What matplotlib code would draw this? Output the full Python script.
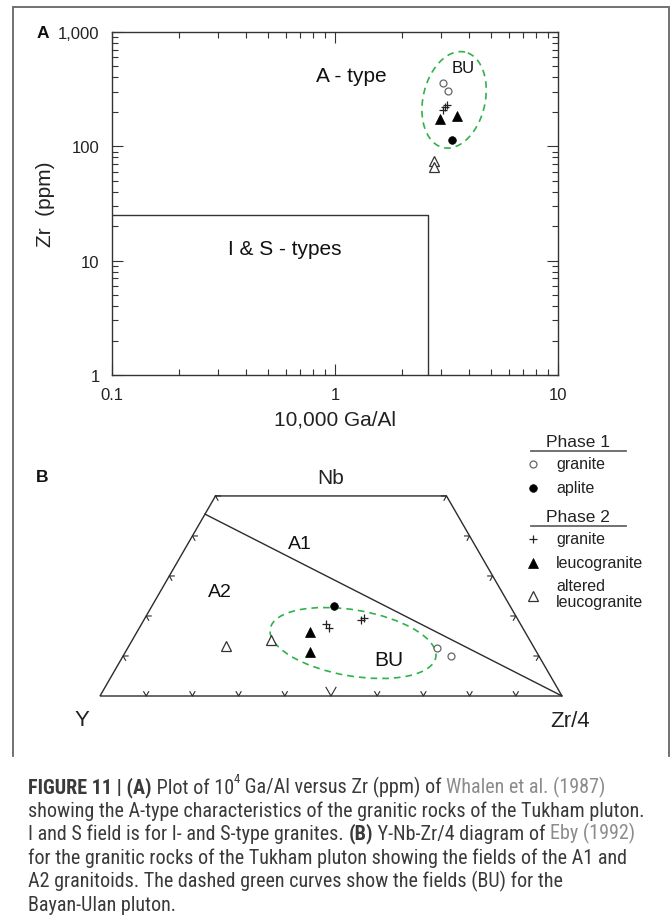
import numpy as np
import matplotlib
matplotlib.use("Agg")
import matplotlib.pyplot as plt
from matplotlib.patches import Ellipse
from matplotlib.ticker import FixedLocator, LogLocator, NullFormatter
from matplotlib import font_manager

W, H, DPI = 672, 920, 100

# ---------------- Panel A: 10,000 Ga/Al vs Zr (ppm) ----------------
a_granite1_gaal = [3.05, 3.21]
a_granite1_zr = [359, 305]
a_aplite_gaal = [3.35]
a_aplite_zr = [114]
a_granite2_gaal = [3.05, 3.11, 3.18]
a_granite2_zr = [208, 221, 230]
a_leuco_gaal = [2.96, 3.52]
a_leuco_zr = [174, 185]
a_altered_gaal = [2.78, 2.78]
a_altered_zr = [74, 66]

# I & S-type field limits
is_gaal_max = 2.6
is_zr_max = 25

x_major = [0.1, 1, 10]
x_labels = ["0.1", "1", "10"]
y_major = [1, 10, 100, 1000]
y_labels = ["1", "10", "100", "1,000"]

# ---------------- Panel B: Y - Nb - Zr/4 (percent) ----------------
b_granite1_y = [21, 19]
b_granite1_nb = [12, 10]
b_granite1_zr4 = [67, 71]
b_aplite_y = [38]
b_aplite_nb = [22.5]
b_aplite_zr4 = [39.5]
b_granite2_y = [42, 42, 34, 33]
b_granite2_nb = [18, 17, 19, 19.5]
b_granite2_zr4 = [40, 41, 47, 47.5]
b_leuco_y = [46.5, 49]
b_leuco_nb = [16, 11]
b_leuco_zr4 = [37.5, 40]
b_altered_y = [66.5, 56]
b_altered_nb = [12.5, 14]
b_altered_zr4 = [21, 30]

# A1 / A2 divide: Y/Nb = 1.2 ; diagram truncated at Nb = 50 %
a1a2_y_over_nb = 1.2
nb_top = 0.5

legend_phase1 = [("granite", "o_open"), ("aplite", "o_fill")]
legend_phase2 = [("granite", "plus"), ("leucogranite", "tri_fill"),
                 ("altered\nleucogranite", "tri_open")]

INK = "#2b2b2b"
GREEN = "#2fb24a"
plt.rcParams['font.family'] = ['Liberation Sans', 'DejaVu Sans']

STYLES = {
    "o_open": dict(marker="o", ms=5, mfc="white", mec="#666666", mew=0.9, ls="none"),
    "o_fill": dict(marker="o", ms=5.5, mfc="black", mec="black", mew=0.5, ls="none"),
    "plus": dict(marker="+", ms=5.5, mec="#222222", mew=0.9, ls="none"),
    "tri_fill": dict(marker="^", ms=6.5, mfc="black", mec="black", mew=0.5, ls="none"),
    "tri_open": dict(marker="^", ms=6.5, mfc="white", mec="#333333", mew=0.9, ls="none"),
}

fig = plt.figure(figsize=(W / DPI, H / DPI), dpi=DPI)

# pixel-space overlay for frame, labels, legend and caption
ov = fig.add_axes([0, 0, 1, 1], zorder=0)
ov.set_xlim(0, W)
ov.set_ylim(H, 0)
ov.axis("off")
ov.plot([13, 13, 669, 669], [757, 8, 8, 757], color="#666666", lw=1.3,
        solid_joinstyle="miter")

# ================= Panel A =================
axA = fig.add_axes([112 / W, 1 - 376 / H, 446 / W, 343 / H], zorder=2)
axA.set_xscale("log")
axA.set_yscale("log")
axA.set_xlim(0.1, 10)
axA.set_ylim(1, 1000)
for s in axA.spines.values():
    s.set_color("#333333")
    s.set_linewidth(1.0)

axA.xaxis.set_major_locator(FixedLocator(x_major))
axA.set_xticklabels(x_labels)
axA.yaxis.set_major_locator(FixedLocator(y_major))
axA.set_yticklabels(y_labels)
for axis in (axA.xaxis, axA.yaxis):
    axis.set_minor_locator(LogLocator(base=10, subs=range(2, 10), numticks=20))
    axis.set_minor_formatter(NullFormatter())
axA.tick_params(which="both", direction="in", top=True, right=True,
                color="#333333", labelcolor="#222222", labelsize=12, width=0.8)
axA.tick_params(which="major", length=8)
axA.tick_params(which="minor", length=4)
axA.tick_params(axis="x", pad=9)
axA.tick_params(axis="y", pad=9)

axA.plot([0.1, is_gaal_max, is_gaal_max], [is_zr_max, is_zr_max, 1],
         color="#333333", lw=1.0)

axA.plot(a_granite1_gaal, a_granite1_zr, **STYLES["o_open"])
axA.plot(a_aplite_gaal, a_aplite_zr, **STYLES["o_fill"])
axA.plot(a_granite2_gaal, a_granite2_zr, **STYLES["plus"])
axA.plot(a_leuco_gaal, a_leuco_zr, **STYLES["tri_fill"])
axA.plot(a_altered_gaal, a_altered_zr, **STYLES["tri_open"])

# Bayan-Ulan field: tilted ellipse drawn in display-space proportions
cx, cy = np.log10(3.42), np.log10(255)
a_px, b_px, th = 49.0, 31.0, np.deg2rad(77)
t = np.linspace(0, 2 * np.pi, 200)
dx = a_px * np.cos(t) * np.cos(th) - b_px * np.sin(t) * np.sin(th)
dy = a_px * np.cos(t) * np.sin(th) + b_px * np.sin(t) * np.cos(th)
axA.plot(10 ** (cx + dx / 223.0), 10 ** (cy + dy / 114.33), color=GREEN,
         lw=1.2, ls=(0, (4, 3)))

axA.text(1.18, 413, "A - type", fontsize=15, ha="center", va="center", color="#111111")
axA.text(0.597, 12.7, "I & S - types", fontsize=15, ha="center", va="center", color="#111111")
axA.text(3.75, 485, "BU", fontsize=12, ha="center", va="center", color="#111111")

axA.set_xlabel("10,000 Ga/Al", fontsize=15, color="#222222")
axA.xaxis.set_label_coords(0.5, -0.128)
axA.xaxis.label.set_va("center")
axA.set_ylabel("Zr  (ppm)", fontsize=15, color="#222222")
axA.yaxis.set_label_coords(-0.150, 0.50)
axA.yaxis.label.set_va("center")

ov.text(43, 33, "A", fontsize=12.5, fontweight="bold", ha="center", va="center", color="#111111")

# ================= Panel B =================
SC = 462.0  # pixels per unit of the ternary base
axB = fig.add_axes([60 / W, 1 - 740 / H, 540 / W, 300 / H], zorder=2)
axB.set_xlim(-40 / SC, 500 / SC)
axB.set_ylim(-43 / SC, 257 / SC)
axB.axis("off")

R3 = np.sqrt(3) / 2


def tern(yv, nb, zr):
    yv, nb, zr = (np.asarray(v, float) for v in (yv, nb, zr))
    s = yv + nb + zr
    nb, zr = nb / s, zr / s
    return zr + nb / 2, nb * R3


def tern_pt(yv, nb, zr):
    px, py = tern([yv], [nb], [zr])
    return px[0], py[0]


# outline truncated at nb_top
outline_x = [nb_top / 2, 0, 1, 1 - nb_top / 2, nb_top / 2]
outline_y = [nb_top * R3, 0, 0, nb_top * R3, nb_top * R3]
axB.plot(outline_x, outline_y, color=INK, lw=1.0, solid_joinstyle="miter")

# A1 / A2 divide from the Y-Nb side to the Zr/4 apex
nb_f = 1 / (1 + a1a2_y_over_nb)
lx, ly = tern([1 - nb_f, 0], [nb_f, 0], [0, 1])
axB.plot(lx, ly, color=INK, lw=1.0)


def chevron(px, py, d1, d2, L):
    axB.plot([px + L * d1[0], px, px + L * d2[0]],
             [py + L * d1[1], py, py + L * d2[1]], color=INK, lw=0.8)


# chevron ticks every 10 %
up_r = (0.5, R3)
up_l = (-0.5, R3)
for i in range(1, 10):
    chevron(i / 10, 0, up_r, up_l, (10 if i == 5 else 5) / SC)
for i in range(1, 6):
    f = i / 10
    chevron(f / 2, f * R3, (1, 0), (0.5, -R3), 5 / SC)
    chevron(1 - f / 2, f * R3, (-1, 0), (-0.5, -R3), 5 / SC)

axB.plot(*tern(b_granite1_y, b_granite1_nb, b_granite1_zr4), **STYLES["o_open"])
axB.plot(*tern(b_aplite_y, b_aplite_nb, b_aplite_zr4), **STYLES["o_fill"])
axB.plot(*tern(b_granite2_y, b_granite2_nb, b_granite2_zr4), **STYLES["plus"])
axB.plot(*tern(b_leuco_y, b_leuco_nb, b_leuco_zr4), **STYLES["tri_fill"])
axB.plot(*tern(b_altered_y, b_altered_nb, b_altered_zr4), **STYLES["tri_open"])

axB.add_patch(Ellipse((253 / SC, 53 / SC), 168 / SC, 66 / SC, angle=-9.75,
                      fill=False, ec=GREEN, lw=1.2, ls=(0, (4, 3))))

axB.text(*tern_pt(33, 9, 58), "BU", fontsize=15, ha="center", va="center", color="#111111")
axB.text(*tern_pt(37.7, 38, 24.3), "A1", fontsize=14, ha="center", va="center", color="#111111")
axB.text(*tern_pt(61, 26, 13), "A2", fontsize=14, ha="center", va="center", color="#111111")
axB.text(0.5, nb_top * R3 + 18 / SC, "Nb", fontsize=15, ha="center", va="center", color="#222222")
axB.text(-18 / SC, -24 / SC, "Y", fontsize=16, ha="center", va="center", color="#222222")
axB.text(1 + 8 / SC, -25 / SC, "Zr/4", fontsize=16, ha="center", va="center", color="#222222")

ov.text(42, 478, "B", fontsize=12.5, fontweight="bold", ha="center", va="center", color="#111111")


# legend
def legend_block(title, entries, y_title):
    ov.text(578, y_title, title, fontsize=12.5, ha="center", va="center", color="#222222")
    ov.plot([531, 626], [y_title + 9, y_title + 9], color="#666666", lw=1.3)
    y = y_title + 22
    for label, key in entries:
        if "\n" in label:
            ov.plot([533], [y + 9], **STYLES[key])
            ov.text(556, y - 9, label, fontsize=11.5, ha="left", va="top",
                    color="#222222", linespacing=1.05)
        else:
            ov.plot([533], [y], **STYLES[key])
            ov.text(556, y, label, fontsize=11.5, ha="left", va="center",
                    color="#222222")
        y += 24


legend_block("Phase 1", legend_phase1, 443)
legend_block("Phase 2", legend_phase2, 518)

# ================= Caption =================
names = {f.name for f in font_manager.fontManager.ttflist}
cap_family = "Liberation Sans"
for cand in ["Liberation Sans Narrow", "Roboto Condensed", "Open Sans Condensed"]:
    if cand in names:
        cap_family = cand
        break

TXT = "#3a3a3a"
LINK = "#8c8c8c"
caption = [
    [("FIGURE 11 | (A)", "b"), (" Plot of 10", "n"), ("4", "sup"),
     (" Ga/Al versus Zr (ppm) of ", "n"), ("Whalen et al. (1987)", "l")],
    [("showing the A-type characteristics of the granitic rocks of the Tukham pluton.", "n")],
    [("I and S field is for I- and S-type granites. ", "n"), ("(B)", "b"),
     (" Y-Nb-Zr/4 diagram of ", "n"), ("Eby (1992)", "l")],
    [("for the granitic rocks of the Tukham pluton showing the fields of the A1 and", "n")],
    [("A2 granitoids. The dashed green curves show the fields (BU) for the", "n")],
    [("Bayan-Ulan pluton.", "n")],
]

renderer = fig.canvas.get_renderer()
probe = fig.text(0, 0, caption[1][0][0], fontsize=12, family=cap_family)
wpx = probe.get_window_extent(renderer).width
probe.remove()
cap_fs = 12 * 616.0 / wpx

x0 = 28 / W
for i, line in enumerate(caption):
    yb = 1 - (793 + 23.6 * i) / H
    prev = None
    base = None
    for text, kind in line:
        kw = dict(family=cap_family, color=LINK if kind == "l" else TXT,
                  fontweight="bold" if kind == "b" else "normal",
                  fontsize=cap_fs * (0.62 if kind == "sup" else 1.0))
        if prev is None:
            prev = fig.text(x0, yb, text, ha="left", va="baseline", **kw)
            base = prev
            continue
        yfrac = 0.55 if kind == "sup" else 0
        prev = ov.annotate(text, xy=(1, yfrac), xycoords=(prev, base),
                           ha="left", va="bottom", **kw)

fig.savefig("out.png", dpi=DPI)
